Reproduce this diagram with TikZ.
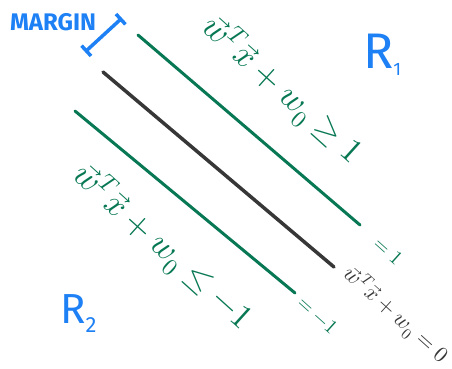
\documentclass[tikz,border=0pt]{standalone}
\usepackage{fontspec}
\setsansfont{Fira Sans}
\usepackage{unicode-math}
\setmathfont{Latin Modern Math}
\usetikzlibrary{arrows.meta, math}
\definecolor{mygreen}{RGB}{8,120,84}
\definecolor{myblue}{RGB}{30,128,245}
\definecolor{mygray}{RGB}{55,55,55}

\begin{document}
\begin{tikzpicture}[x=1pt,y=-1pt]
\tikzmath{
\ang=-42;%text tilt
}
\useasboundingbox (0,0) rectangle (452,368);

%margin lines and decision boundary
\coordinate (U1) at (138,35);
\coordinate (U2) at (360,225);
\coordinate (C1) at (103,72);
\coordinate (C2) at (334,267);
\coordinate (L1) at (75,111);
\coordinate (L2) at (295,293);
\draw[color=mygreen,line width=3,line cap=round] (U1) -- (U2);
\draw[color=mygray,line width=3.5,line cap=round] (C1) -- (C2);
\draw[color=mygreen,line width=3,line cap=round] (L1) -- (L2);

%margin width
\coordinate (M1) at (85,52);
\coordinate (M2) at (122,18);
\draw[{Bar[width=14pt]}-{Bar[width=14pt]},color=myblue,line width=3.5,line cap=round] (M1) -- (M2);
\node[color=myblue,font=\sffamily\bfseries\fontsize{24}{24}\selectfont] (mar) at (53,22) {MARGIN};

%regions
\node[anchor=base west,inner sep=0,color=myblue,font=\sffamily\fontsize{50}{50}\selectfont] (R1) at (363,68) {R\raisebox{-7pt}{\fontsize{18}{18}\selectfont 1}};
\node[anchor=base west,inner sep=0,color=myblue,font=\sffamily\fontsize{42}{42}\selectfont] (R2) at (60,323) {R\raisebox{-9pt}{\fontsize{22}{22}\selectfont 2}};

%inequalities
\node[rotate=\ang,color=mygreen,font=\fontsize{34}{34}\selectfont] (up) at (282,90) {$\vec{w}^{T}\vec{x}+w_0\geq 1$};
\node[rotate=\ang,color=mygreen,font=\fontsize{34}{34}\selectfont] (lo) at (163,247) {$\vec{w}^{T}\vec{x}+w_0\leq -1$};
\node[rotate=\ang,color=mygray,font=\fontsize{22}{22}\selectfont] (bd) at (396,315) {$\vec{w}^{T}\vec{x}+w_0=0$};
\node[rotate=\ang,color=mygreen,font=\fontsize{20}{20}\selectfont] (upv) at (389,251) {$=1$};
\node[rotate=\ang,color=mygreen,font=\fontsize{20}{20}\selectfont] (lov) at (318,315) {$=-1$};

\end{tikzpicture}
\end{document}
